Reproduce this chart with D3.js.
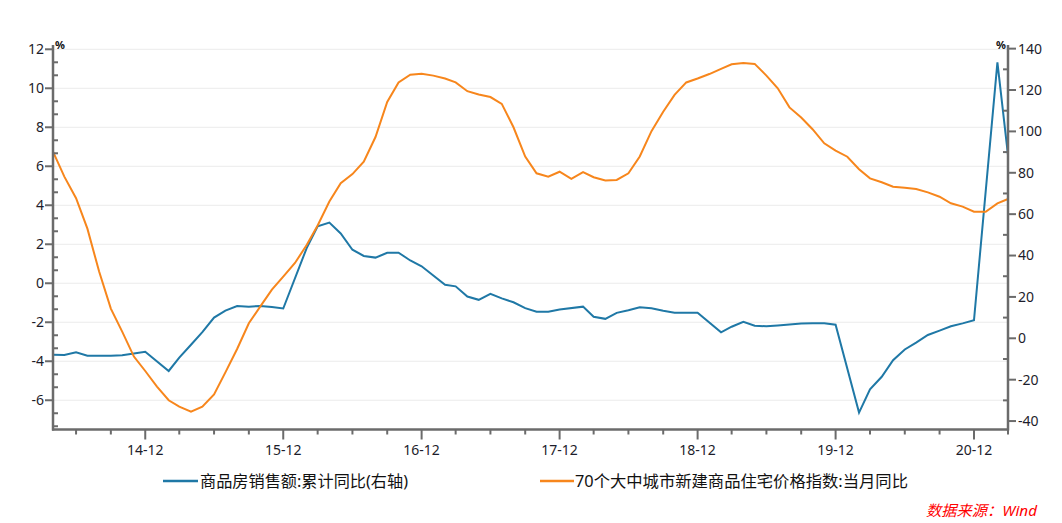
<!DOCTYPE html>
<html><head><meta charset="utf-8">
<script src="https://cdn.jsdelivr.net/npm/d3@7"></script>
<style>
html,body{margin:0;padding:0;background:#fff;}
svg{display:block;}
text{font-family:"Noto Sans","Noto Sans CJK SC",sans-serif;}
</style></head>
<body><svg id="c" width="1062" height="523"></svg>
<script>
// ---- data ----
const salesMonths = [
 "2014-04","2014-05","2014-06","2014-07","2014-08","2014-09","2014-10","2014-11","2014-12",
 "2015-02","2015-03","2015-04","2015-05","2015-06","2015-07","2015-08","2015-09","2015-10","2015-11","2015-12",
 "2016-02","2016-03","2016-04","2016-05","2016-06","2016-07","2016-08","2016-09","2016-10","2016-11","2016-12",
 "2017-02","2017-03","2017-04","2017-05","2017-06","2017-07","2017-08","2017-09","2017-10","2017-11","2017-12",
 "2018-02","2018-03","2018-04","2018-05","2018-06","2018-07","2018-08","2018-09","2018-10","2018-11","2018-12",
 "2019-02","2019-03","2019-04","2019-05","2019-06","2019-07","2019-08","2019-09","2019-10","2019-11","2019-12",
 "2020-02","2020-03","2020-04","2020-05","2020-06","2020-07","2020-08","2020-09","2020-10","2020-11","2020-12",
 "2021-02","2021-03"];
const salesYoY = [
 -8.0,-8.1,-6.8,-8.4,-8.4,-8.4,-8.2,-7.3,-6.5,
 -15.8,-9.3,-3.1,3.0,10.0,13.4,15.6,15.3,15.6,15.1,14.4,
 43.6,54.1,55.9,50.7,42.8,39.8,39.0,41.3,41.4,37.6,34.8,
 25.9,25.1,20.2,18.6,21.5,19.3,17.4,14.6,12.8,12.8,13.9,
 15.3,10.4,9.4,12.3,13.6,15.0,14.5,13.3,12.4,12.4,12.4,
 2.9,5.6,8.0,6.1,5.8,6.2,6.7,7.1,7.3,7.3,6.6,
 -35.9,-24.7,-18.6,-10.6,-5.4,-2.1,1.6,3.7,5.8,7.2,8.7,
 133.4,88.5];

const priceStart = "2014-04";
const priceYoY = [
 6.75,5.47,4.36,2.8,0.6,-1.3,-2.48,-3.76,-4.5,
 -5.3,-6.0,-6.33,-6.58,-6.33,-5.7,-4.57,-3.37,-2.05,-1.2,-0.33,0.34,
 1.04,1.96,2.96,4.19,5.13,5.6,6.24,7.5,9.3,10.3,10.7,10.75,
 10.65,10.5,10.3,9.85,9.68,9.55,9.2,8.0,6.5,5.64,5.47,5.72,
 5.35,5.7,5.44,5.27,5.3,5.64,6.5,7.8,8.8,9.66,10.3,10.5,
 10.73,11.0,11.23,11.3,11.25,10.65,10.0,9.02,8.5,7.9,7.18,6.8,
 6.49,5.85,5.38,5.18,4.95,4.9,4.83,4.66,4.44,4.1,3.93,3.67,
 3.67,4.1,4.32];

const xTickLabels = ["14-12","15-12","16-12","17-12","18-12","19-12","20-12"];
const leftTicks = [-6,-4,-2,0,2,4,6,8,10,12];
const rightTicks = [-40,-20,0,20,40,60,80,100,120,140];
const seriesNames = ["商品房销售额:累计同比(右轴)","70个大中城市新建商品住宅价格指数:当月同比"];
const sourceText = "数据来源：Wind";

// ---- chart ----
const BLUE = "#1f78a6", ORANGE = "#f7861c", AXIS = "#6b6b6b", LABEL = "#1d1d2b";
const svg = d3.select("#c");
const L = 53, R = 1008, T = 45, B = 429.5;
const parse = d3.timeParse("%Y-%m");

const x = d3.scaleTime().domain([parse("2014-04"), parse("2021-03")]).range([L, R]);
const yL = d3.scaleLinear().domain([-7.5, 12.22]).range([B, T]);
const yR = d3.scaleLinear().domain([-44.08, 141.76]).range([B, T]);

// grid
svg.append("g").selectAll("line").data(leftTicks).join("line")
  .attr("x1", L).attr("x2", R).attr("y1", d => yL(d)).attr("y2", d => yL(d))
  .attr("stroke", "#ebebeb").attr("stroke-width", 1);

// series
const salesData = salesMonths.map((m, i) => ({d: parse(m), v: salesYoY[i]}));
const p0 = parse(priceStart);
const priceData = priceYoY.map((v, i) => ({d: d3.timeMonth.offset(p0, i), v}));

svg.append("path").datum(salesData)
  .attr("fill", "none").attr("stroke", BLUE).attr("stroke-width", 2)
  .attr("d", d3.line().x(d => x(d.d)).y(d => yR(d.v)));
svg.append("path").datum(priceData)
  .attr("fill", "none").attr("stroke", ORANGE).attr("stroke-width", 2)
  .attr("d", d3.line().x(d => x(d.d)).y(d => yL(d.v)));

// left axis (minor ticks every 2/3 unit)
const minorL = d3.range(-11, 19).filter(i => i % 3 !== 0).map(i => i * 2 / 3);
const gL = svg.append("g");
gL.append("line").attr("x1", L).attr("x2", L).attr("y1", T).attr("y2", B + 1).attr("stroke", AXIS).attr("stroke-width", 2.5);
gL.selectAll(".mj").data(leftTicks).join("line")
  .attr("x1", L - 8).attr("x2", L).attr("y1", d => yL(d)).attr("y2", d => yL(d))
  .attr("stroke", AXIS).attr("stroke-width", 2);
gL.selectAll(".mn").data(minorL).join("line")
  .attr("x1", L).attr("x2", L + 5).attr("y1", d => yL(d)).attr("y2", d => yL(d))
  .attr("stroke", AXIS).attr("stroke-width", 2);
gL.selectAll("text").data(leftTicks).join("text")
  .attr("x", L - 9).attr("y", d => yL(d)).attr("dy", "0.35em").attr("text-anchor", "end")
  .attr("font-size", 14).attr("fill", LABEL).text(d => d);
svg.append("text").attr("x", L + 2).attr("y", T + 4).attr("font-size", 11).attr("font-weight", "bold").attr("fill", "#111").text("%");

// right axis
const minorR = d3.range(-40, 141, 10).filter(v => v % 20 !== 0);
const gR = svg.append("g");
gR.append("line").attr("x1", R).attr("x2", R).attr("y1", T).attr("y2", B + 1).attr("stroke", AXIS).attr("stroke-width", 2.5);
gR.selectAll(".mj").data(rightTicks).join("line")
  .attr("x1", R).attr("x2", R + 8).attr("y1", d => yR(d)).attr("y2", d => yR(d))
  .attr("stroke", AXIS).attr("stroke-width", 2);
gR.selectAll(".mn").data(minorR).join("line")
  .attr("x1", R - 5).attr("x2", R).attr("y1", d => yR(d)).attr("y2", d => yR(d))
  .attr("stroke", AXIS).attr("stroke-width", 2);
gR.selectAll("text").data(rightTicks).join("text")
  .attr("x", R + 10).attr("y", d => yR(d)).attr("dy", "0.35em").attr("text-anchor", "start")
  .attr("font-size", 14).attr("fill", LABEL).text(d => d);
svg.append("text").attr("x", R - 2).attr("y", T + 4).attr("text-anchor", "end").attr("font-size", 11).attr("font-weight", "bold").attr("fill", "#111").text("%");

// bottom axis
const gB = svg.append("g");
gB.append("line").attr("x1", L - 1).attr("x2", R + 1).attr("y1", B).attr("y2", B).attr("stroke", AXIS).attr("stroke-width", 2.5);
const majorDates = xTickLabels.map(s => parse("20" + s.slice(0, 2) + "-12"));
const minorDates = d3.timeMonth.range(parse("2014-06"), parse("2021-04"), 3).filter(d => d.getMonth() !== 11);
gB.selectAll(".mj").data(majorDates).join("line")
  .attr("x1", d => x(d)).attr("x2", d => x(d)).attr("y1", B).attr("y2", B + 10)
  .attr("stroke", AXIS).attr("stroke-width", 2);
gB.selectAll(".mn").data(minorDates).join("line")
  .attr("x1", d => x(d)).attr("x2", d => x(d)).attr("y1", B).attr("y2", B + 5)
  .attr("stroke", AXIS).attr("stroke-width", 2);
gB.selectAll("text").data(xTickLabels).join("text")
  .attr("x", (d, i) => x(majorDates[i])).attr("y", B + 25).attr("text-anchor", "middle")
  .attr("font-size", 14).attr("fill", LABEL).text(d => d);

// legend
const lg = svg.append("g");
lg.append("line").attr("x1", 163).attr("x2", 198).attr("y1", 481).attr("y2", 481).attr("stroke", BLUE).attr("stroke-width", 2.5);
lg.append("text").attr("x", 200).attr("y", 487).attr("font-size", 16).attr("fill", "#111")
  .attr("textLength", 208).attr("lengthAdjust", "spacingAndGlyphs").text(seriesNames[0]);
lg.append("line").attr("x1", 540).attr("x2", 574).attr("y1", 481).attr("y2", 481).attr("stroke", ORANGE).attr("stroke-width", 2.5);
lg.append("text").attr("x", 575).attr("y", 487).attr("font-size", 16).attr("fill", "#111")
  .attr("textLength", 333).attr("lengthAdjust", "spacingAndGlyphs").text(seriesNames[1]);

svg.append("text").attr("x", 926).attr("y", 516).attr("font-size", 15).attr("font-style", "italic")
  .attr("fill", "#ff0000").attr("textLength", 111).attr("lengthAdjust", "spacingAndGlyphs").text(sourceText);
</script></body></html>
